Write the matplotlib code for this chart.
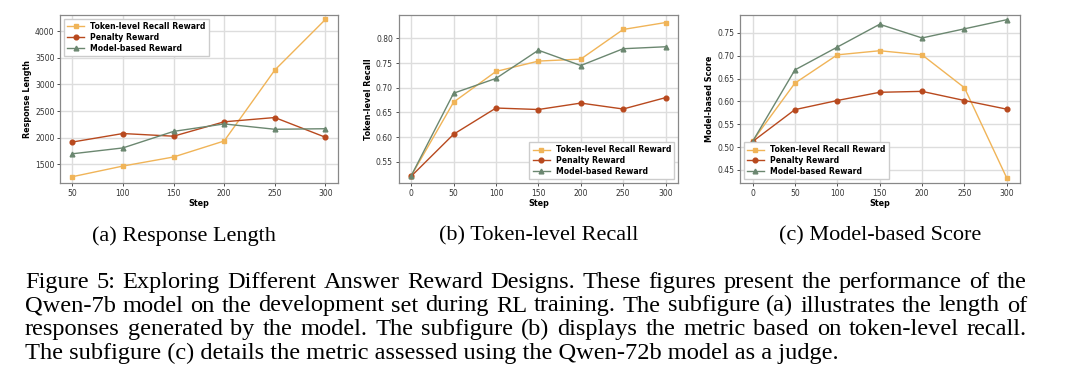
import matplotlib
matplotlib.use('Agg')
import matplotlib.pyplot as plt

# data
steps_a = [50, 100, 150, 200, 250, 300]
len_token = [1270, 1470, 1640, 1940, 3270, 4220]
len_penalty = [1920, 2080, 2030, 2300, 2380, 2010]
len_model = [1700, 1810, 2120, 2260, 2160, 2170]

steps = [0, 50, 100, 150, 200, 250, 300]
recall_token = [0.522, 0.671, 0.733, 0.754, 0.758, 0.818, 0.832]
recall_penalty = [0.521, 0.606, 0.659, 0.656, 0.669, 0.657, 0.680]
recall_model = [0.522, 0.689, 0.719, 0.776, 0.745, 0.779, 0.783]

score_token = [0.513, 0.640, 0.702, 0.711, 0.702, 0.630, 0.432]
score_penalty = [0.512, 0.582, 0.602, 0.620, 0.622, 0.602, 0.583]
score_model = [0.512, 0.669, 0.719, 0.769, 0.739, 0.759, 0.779]

names = ['Token-level Recall Reward', 'Penalty Reward', 'Model-based Reward']
colors = ['#f0b458', '#b8491e', '#6b8770']
markers = ['s', 'o', '^']

subcaps = ['(a) Response Length', '(b) Token-level Recall', '(c) Model-based Score']
caption = [
    'Figure 5: Exploring Different Answer Reward Designs. These figures present the performance of the',
    'Qwen-7b model on the development set during RL training. The subfigure (a) illustrates the length of',
    'responses generated by the model. The subfigure (b) displays the metric based on token-level recall.',
    'The subfigure (c) details the metric assessed using the Qwen-72b model as a judge.',
]

W, H = 1080, 388
fig = plt.figure(figsize=(10.8, 3.88), dpi=100)

def panel(rect, x, series, ylabel, ylim, yticks, legend_loc):
    ax = fig.add_axes(rect)
    for y, name, c, m in zip(series, names, colors, markers):
        ax.plot(x, y, color=c, marker=m, markersize=3.4, linewidth=1.0, label=name)
    ax.set_xticks(x)
    ax.set_ylim(*ylim)
    ax.set_yticks(yticks)
    ax.grid(True, color='#dddddd', linewidth=1.0)
    ax.set_axisbelow(True)
    for s in ax.spines.values():
        s.set_color('#888888')
        s.set_linewidth(0.9)
    ax.tick_params(labelsize=5.5, colors='#333333', length=2, width=0.6, pad=2)
    ax.set_xlabel('Step', fontsize=5.8, fontweight='bold', labelpad=1)
    ax.set_ylabel(ylabel, fontsize=5.8, fontweight='bold', labelpad=2)
    ax.legend(loc=legend_loc, prop={'size': 5.6, 'weight': 'bold'}, framealpha=1,
              edgecolor='#cccccc', fancybox=False, handlelength=2.2, borderpad=0.4,
              labelspacing=0.25)
    return ax

ax = panel([0.0556, 0.528, 0.257, 0.433], steps_a, [len_token, len_penalty, len_model],
           'Response Length', (1150, 4300), [1500, 2000, 2500, 3000, 3500, 4000], 'upper left')
ax.set_xlim(38, 312)
ax = panel([0.369, 0.528, 0.259, 0.433], steps, [recall_token, recall_penalty, recall_model],
           'Token-level Recall', (0.507, 0.847), [0.55, 0.60, 0.65, 0.70, 0.75, 0.80], 'lower right')
ax = panel([0.685, 0.528, 0.259, 0.433], steps, [score_token, score_penalty, score_model],
           'Model-based Score', (0.421, 0.789), [0.45, 0.50, 0.55, 0.60, 0.65, 0.70, 0.75], 'lower left')

for xc, t in zip([0.1705, 0.4985, 0.8145], subcaps):
    fig.text(xc, 1 - 236 / H, t, ha='center', va='center', family='Liberation Serif', fontsize=16)

# caption, justified like the paper (last line left aligned)
r = fig.canvas.get_renderer()
left, right = 25, 1027
fs = 17.6
for i, line in enumerate(caption):
    yb = 1 - (288 + 23.5 * i) / H
    if i == len(caption) - 1:
        fig.text(left / W, yb, line, ha='left', va='baseline', family='Liberation Serif', fontsize=fs)
        continue
    words = line.split(' ')
    texts = [fig.text(0, yb, w, ha='left', va='baseline', family='Liberation Serif', fontsize=fs)
             for w in words]
    widths = [t.get_window_extent(r).width for t in texts]
    gap = (right - left - sum(widths)) / (len(words) - 1)
    x = left
    for t, w in zip(texts, widths):
        t.set_x(x / W)
        x += w + gap

fig.savefig('out.png', dpi=100)
